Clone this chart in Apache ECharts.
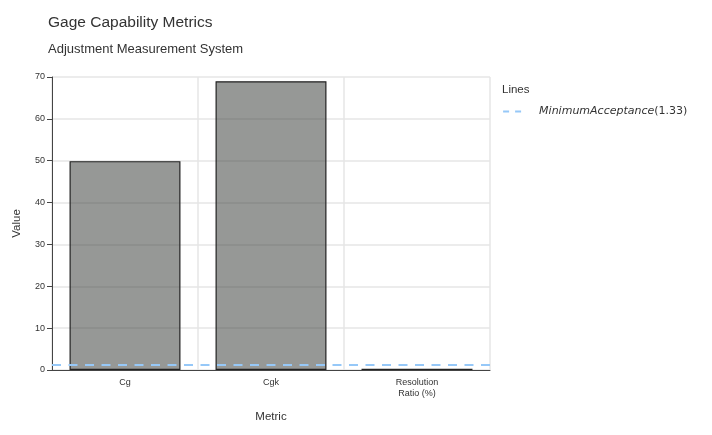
<!DOCTYPE html>
<html><head><meta charset="utf-8">
<script src="https://cdn.jsdelivr.net/npm/echarts@6/dist/echarts.min.js"></script>
<style>html,body{margin:0;padding:0;background:#fff}#c{width:712px;height:435px}</style>
</head><body><div id="c"></div>
<script>
const categories = ['Cg', 'Cgk', 'Resolution\nRatio (%)'];
const values = [49.9, 69.0, 0.3];
const minAcceptance = 1.33;
const yTicks = [0, 10, 20, 30, 40, 50, 60, 70];

const FONT = '"Liberation Sans", Arial, sans-serif';
const chart = echarts.init(document.getElementById('c'), null, {renderer: 'canvas'});
chart.setOption({
  animation: false,
  textStyle: {fontFamily: FONT},
  title: [
    {text: 'Gage Capability Metrics', left: 43, top: 10, textStyle: {fontFamily: FONT, fontSize: 15.5, fontWeight: 'normal', color: '#333'}},
    {text: 'Adjustment Measurement System', left: 43, top: 38, textStyle: {fontFamily: FONT, fontSize: 13, fontWeight: 'normal', color: '#333'}},
    {text: 'Lines', left: 497, top: 79, textStyle: {fontFamily: FONT, fontSize: 11.5, fontWeight: 'normal', color: '#333'}}
  ],
  legend: {
    left: 497, top: 101, orient: 'vertical', itemWidth: 19, itemHeight: 10, itemGap: 10,
    data: ['MinimumAcceptance'],
    itemStyle: {opacity: 0},
    lineStyle: {color: '#96c8f8', type: [6, 6], width: 2.2},
    formatter: function () { return '{i|MinimumAcceptance}{n|(' + minAcceptance + ')}'; },
    textStyle: {
      padding: [0, 0, 0, 12],
      rich: {
        i: {fontFamily: 'DejaVu Sans', fontStyle: 'italic', fontSize: 11, color: '#333'},
        n: {fontFamily: 'DejaVu Sans', fontSize: 11, color: '#333'}
      }
    }
  },
  grid: {left: 52, right: 222, top: 77, bottom: 65, outerBoundsMode: 'none'},
  xAxis: {
    type: 'category', data: categories,
    name: 'Metric', nameLocation: 'middle', nameGap: 41,
    nameTextStyle: {fontFamily: FONT, fontSize: 11.5, color: '#333'},
    axisLine: {lineStyle: {color: '#444', width: 1}},
    axisTick: {alignWithLabel: true, length: 5, lineStyle: {color: '#444'}},
    axisLabel: {fontFamily: FONT, fontSize: 9, color: '#333', margin: 7, lineHeight: 11},
    splitLine: {show: true, lineStyle: {color: '#e6e6e6', width: 1.5}}
  },
  yAxis: {
    type: 'value', min: 0, max: 70, interval: 10,
    name: 'Value', nameLocation: 'middle', nameGap: 29,
    nameTextStyle: {fontFamily: FONT, fontSize: 11.5, color: '#333'},
    axisLine: {show: true, lineStyle: {color: '#444', width: 1}},
    axisTick: {show: true, length: 5, lineStyle: {color: '#444'}},
    axisLabel: {fontFamily: FONT, fontSize: 9, color: '#333', margin: 7,
      formatter: function (v) { return yTicks.indexOf(v) >= 0 ? String(v) : ''; }},
    splitLine: {show: true, lineStyle: {color: '#e6e6e6', width: 1.5}}
  },
  series: [
    {
      name: 'MinimumAcceptance', type: 'line', data: [], z: 1, symbol: 'none',
      lineStyle: {color: '#96c8f8', type: [9, 7.5], width: 2.2},
      itemStyle: {color: '#96c8f8'},
      markLine: {
        silent: true, symbol: 'none', label: {show: false},
        lineStyle: {color: '#96c8f8', type: [9, 7.5], width: 2.2},
        data: [{yAxis: minAcceptance}]
      }
    },
    {
      name: 'Value', type: 'bar', data: values, z: 2, barWidth: '76%',
      itemStyle: {color: 'rgba(46,50,46,0.5)', borderColor: '#222', borderWidth: 1.2}
    }
  ]
});
</script></body></html>
